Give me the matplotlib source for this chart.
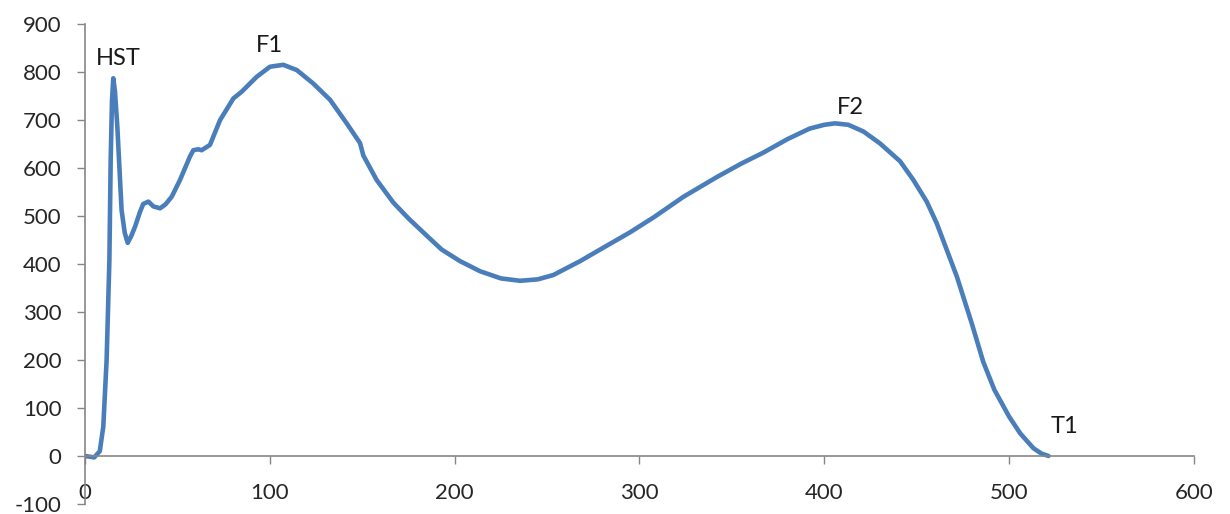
import matplotlib.pyplot as plt

# values
x_values = [0, 5, 8, 9.9, 11.7, 13.2, 13.9, 14.6, 15.3, 16.2, 17.5, 19.8, 21.5, 23.1,
            25, 27.1, 29.8, 31.5, 34.3, 37, 40.6, 43.5, 46.9, 51.4, 56.8, 58.6, 61.3,
            63.1, 67.6, 73.1, 80.3, 84.8, 92.9, 100.1, 107.3, 114.6, 123.5, 132.6,
            141.6, 148.8, 150.6, 157.8, 166.8, 175, 184.9, 193, 202.9, 213.7, 225,
            235.4, 245, 253.4, 267.9, 280, 294.9, 308, 323.8, 341.8, 355, 367, 380, 392,
            400, 405.8, 413, 421.2, 430.2, 441, 448.2, 455.4, 460.8, 466.3, 471.7, 479.8,
            486, 492, 500, 506, 513.2, 517.5, 521.3]
y_values = [0, -3, 10, 61, 200, 408, 617, 740, 787, 760, 686, 512, 465, 444,
            458, 478, 509, 525, 530, 520, 516, 524, 540, 575, 624, 637, 639,
            637, 648, 700, 745, 759, 790, 811, 815, 804, 776, 742,
            693, 652, 626, 575, 528, 495, 459, 430, 406, 385, 370,
            365, 368, 377, 406, 433, 466, 498, 540, 581, 609, 632, 660, 682,
            690, 693, 690, 676, 651, 614, 575, 530, 485, 429, 374, 276,
            196, 138, 82, 47, 16, 5, 0]

labels = ["HST", "F1", "F2", "T1"]
label_x = [17.9, 100, 414, 530]
label_y = [829, 856, 725, 61]

plt.rcParams['font.family'] = ['Lato', 'DejaVu Sans']
plt.rcParams['axes.unicode_minus'] = False

fig = plt.figure(figsize=(12.3, 5.14), dpi=100)
ax = fig.add_axes([0.0691, 0.0195, 0.9016, 0.9338])

ax.plot(x_values, y_values, color="#4A7EBB", linewidth=3.3, solid_capstyle="round",
        solid_joinstyle="round")

for txt, lx, ly in zip(labels, label_x, label_y):
    ax.text(lx, ly, txt, ha="center", va="center", fontsize=17, color="#1a1a1a")

ax.set_xlim(0, 600)
ax.set_ylim(-100, 900)
ax.set_xticks(range(0, 601, 100))
ax.set_yticks(range(-100, 901, 100))

ax.spines['top'].set_visible(False)
ax.spines['right'].set_visible(False)
ax.spines['bottom'].set_position(('data', 0))
for s in ('left', 'bottom'):
    ax.spines[s].set_color("#868686")
    ax.spines[s].set_linewidth(1.2)

ax.tick_params(axis='both', direction='out', length=5.8, width=1.0, color="#868686",
               labelsize=16, labelcolor="#262626")
ax.tick_params(axis='y', pad=11)
ax.tick_params(axis='x', pad=14)

fig.savefig("out.png", dpi=100)
